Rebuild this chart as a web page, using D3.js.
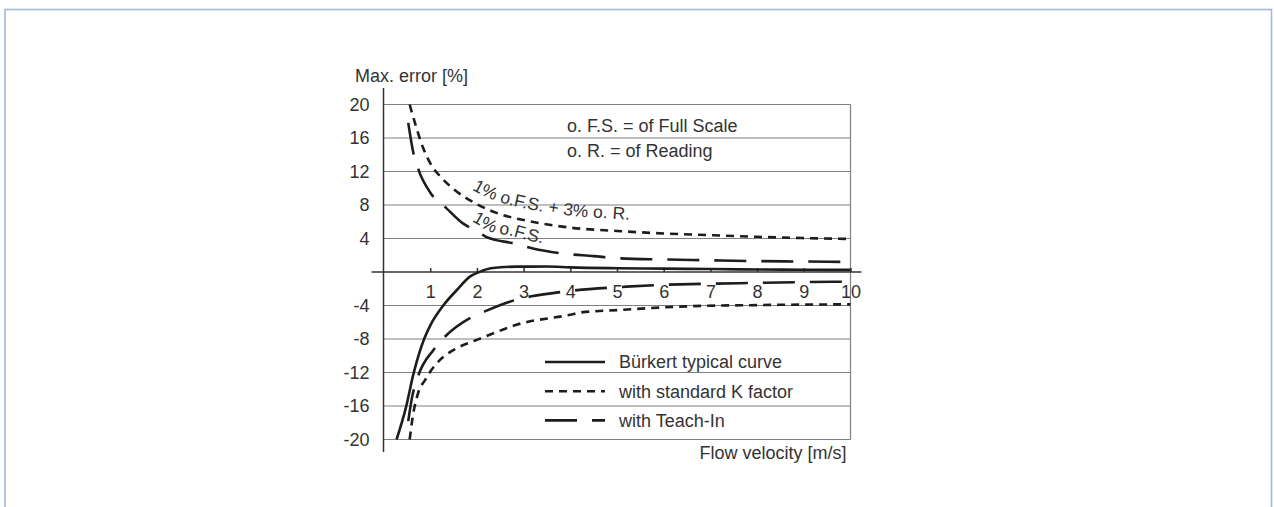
<!DOCTYPE html>
<html>
<head>
<meta charset="utf-8">
<script src="https://cdn.jsdelivr.net/npm/d3@7"></script>
<style>
  html, body { margin: 0; padding: 0; background: #fff; }
  svg { display: block; }
  text { font-family: "Liberation Sans", Arial, sans-serif; fill: #333; }
</style>
</head>
<body>
<div id="chart"></div>
<script>
// tick values
const xTicks = [1, 2, 3, 4, 5, 6, 7, 8, 9, 10];
const yTicks = [-20, -16, -12, -8, -4, 4, 8, 12, 16, 20];

// Bürkert typical curve
const burkertV = [0.28, 0.48, 0.64, 0.87, 1.0, 1.28, 1.57, 1.85, 2.05, 2.3, 2.85, 3.5, 4, 5, 6, 7, 8, 9, 10];
const burkertErr = [-20, -16.2, -12.2, -8, -6.4, -4, -2.15, -0.55, 0, 0.45, 0.64, 0.65, 0.55, 0.45, 0.4, 0.35, 0.3, 0.27, 0.25];

// with standard K factor (upper / lower envelope)
const kPosV = [0.56, 0.7, 0.85, 1, 1.25, 1.5, 2, 2.5, 3, 4, 5, 6, 7, 8, 9, 10];
const kPosErr = [20, 17.3, 14.8, 13, 11.2, 9.9, 8.1, 6.9, 6.2, 5.3, 4.9, 4.6, 4.4, 4.2, 4.05, 3.95];
const kNegV = [0.56, 0.62, 0.75, 0.89, 1, 1.21, 1.57, 2, 2.5, 2.85, 4, 4.2, 5, 6.5, 8, 10];
const kNegErr = [-20, -17.5, -14.3, -12.9, -11.9, -10.5, -9.1, -8.1, -7.0, -6.3, -5.1, -4.85, -4.55, -4.1, -3.95, -3.86];

// with Teach-In (upper / lower envelope)
const teachPosV = [0.53, 0.64, 0.75, 1, 1.35, 1.7, 2, 2.2, 2.8, 3.2, 3.85, 4.5, 5, 6, 7, 8, 9, 10];
const teachPosErr = [17.8, 14.2, 12.2, 9.5, 7.6, 5.8, 4.9, 4.2, 3.4, 2.8, 2.2, 1.9, 1.65, 1.5, 1.4, 1.3, 1.25, 1.2];
const teachNegV = [0.53, 0.6, 0.75, 1.07, 1.32, 1.85, 2.17, 2.85, 3.17, 3.85, 5.2, 5.9, 7, 8, 9, 10];
const teachNegErr = [-17.8, -15.3, -12.3, -9.3, -7.7, -5.5, -4.7, -3.3, -2.9, -2.35, -1.75, -1.55, -1.4, -1.3, -1.2, -1.15];

const legendLabels = ["Bürkert typical curve", "with standard K factor", "with Teach-In"];
const notes = ["o. F.S. = of Full Scale", "o. R. = of Reading"];
const curveLabels = ["1% o.F.S. + 3% o. R.", "1% o.F.S."];

const width = 1274, height = 507;
const ink = "#1d1d1b", grid = "#808080";
const dotted = "8 6", longDash = "32 15";
const fontSize = 18;

const svg = d3.select("#chart").append("svg")
  .attr("width", width)
  .attr("height", height);

// outer frame
svg.append("rect")
  .attr("x", 5).attr("y", 9.5)
  .attr("width", 1266.5).attr("height", 600)
  .attr("fill", "none")
  .attr("stroke", "#a4bad8")
  .attr("stroke-width", 1.6);

const x = d3.scaleLinear().domain([0, 10]).range([383.5, 850.5]);
const y = d3.scaleLinear().domain([-20, 20]).range([439.5, 104.5]);

// grid lines
svg.append("g")
  .selectAll("line")
  .data(yTicks)
  .join("line")
  .attr("x1", x(0)).attr("x2", x(10))
  .attr("y1", d => y(d)).attr("y2", d => y(d))
  .attr("stroke", grid)
  .attr("stroke-width", 1.2);

svg.append("line")
  .attr("x1", x(10)).attr("x2", x(10))
  .attr("y1", y(20)).attr("y2", y(-20))
  .attr("stroke", grid)
  .attr("stroke-width", 1.2);

// y axis
const yAxis = svg.append("g")
  .attr("transform", `translate(${x(0)},0)`)
  .call(d3.axisLeft(y).tickValues(yTicks).tickSize(0).tickPadding(14).tickFormat(d => String(d)));
yAxis.select(".domain").remove();
yAxis.selectAll("text")
  .attr("font-size", fontSize)
  .attr("fill", "#333")
  .attr("font-family", "Liberation Sans, Arial, sans-serif");
svg.append("line")
  .attr("x1", x(0)).attr("x2", x(0))
  .attr("y1", 88).attr("y2", 452)
  .attr("stroke", "#333")
  .attr("stroke-width", 1.5);

// x axis through zero, ticks pointing up
const xAxis = svg.append("g")
  .attr("transform", `translate(0,${y(0)})`)
  .call(d3.axisTop(x).tickValues(xTicks).tickSize(4).tickFormat(d => String(d)));
xAxis.select(".domain").remove();
xAxis.selectAll(".tick line").attr("stroke", "#333").attr("stroke-width", 1.5);
xAxis.selectAll(".tick text")
  .attr("y", 25.5)
  .attr("dy", null)
  .attr("font-size", fontSize)
  .attr("fill", "#333")
  .attr("font-family", "Liberation Sans, Arial, sans-serif");
svg.append("line")
  .attr("x1", 371.5).attr("x2", 861.5)
  .attr("y1", y(0)).attr("y2", y(0))
  .attr("stroke", "#333")
  .attr("stroke-width", 1.5);

// axis titles
svg.append("text")
  .attr("x", 355).attr("y", 82)
  .attr("font-size", fontSize)
  .text("Max. error [%]");
svg.append("text")
  .attr("x", 846.5).attr("y", 459)
  .attr("text-anchor", "end")
  .attr("font-size", fontSize)
  .text("Flow velocity [m/s]");

// curves
const line = d3.line()
  .x(d => x(d[0]))
  .y(d => y(d[1]))
  .curve(d3.curveMonotoneX);

const series = [
  { v: teachPosV, e: teachPosErr, dash: longDash },
  { v: teachNegV, e: teachNegErr, dash: longDash },
  { v: kPosV, e: kPosErr, dash: dotted },
  { v: kNegV, e: kNegErr, dash: dotted },
  { v: burkertV, e: burkertErr, dash: null }
];

svg.append("g")
  .selectAll("path")
  .data(series)
  .join("path")
  .attr("d", s => line(d3.zip(s.v, s.e)))
  .attr("fill", "none")
  .attr("stroke", ink)
  .attr("stroke-width", 2.6)
  .attr("stroke-dasharray", s => s.dash);

// labels that follow the upper curves, lifted a little above them
function labelPath(id, v, e, fromV, lift) {
  const pts = d3.zip(v, e).filter(d => d[0] >= fromV);
  const shifted = d3.line()
    .x(d => x(d[0]))
    .y(d => y(d[1]) - lift)
    .curve(d3.curveMonotoneX);
  svg.append("defs").append("path")
    .attr("id", id)
    .attr("d", shifted(pts));
}
labelPath("kLabelPath", kPosV, kPosErr, 1.4, 12);
labelPath("teachLabelPath", teachPosV, teachPosErr, 1.6, 7);

svg.append("text")
  .attr("font-size", 17.5)
  .append("textPath")
  .attr("href", "#kLabelPath")
  .attr("startOffset", 22)
  .text(curveLabels[0]);
svg.append("text")
  .attr("font-size", 17.5)
  .append("textPath")
  .attr("href", "#teachLabelPath")
  .attr("startOffset", 10)
  .text(curveLabels[1]);

// notes
svg.append("g")
  .selectAll("text")
  .data(notes)
  .join("text")
  .attr("x", 567)
  .attr("y", (d, i) => 132 + i * 25)
  .attr("font-size", fontSize)
  .text(d => d);

// legend
const legendDash = [null, dotted, longDash];
const legend = svg.append("g")
  .selectAll("g")
  .data(legendLabels)
  .join("g")
  .attr("transform", (d, i) => `translate(545,${362 + i * 29.2})`);
legend.append("line")
  .attr("x1", 0).attr("x2", 60)
  .attr("stroke", ink)
  .attr("stroke-width", 2.6)
  .attr("stroke-dasharray", (d, i) => legendDash[i]);
legend.append("text")
  .attr("x", 74)
  .attr("dy", "0.36em")
  .attr("font-size", fontSize)
  .text(d => d);
</script>
</body>
</html>
